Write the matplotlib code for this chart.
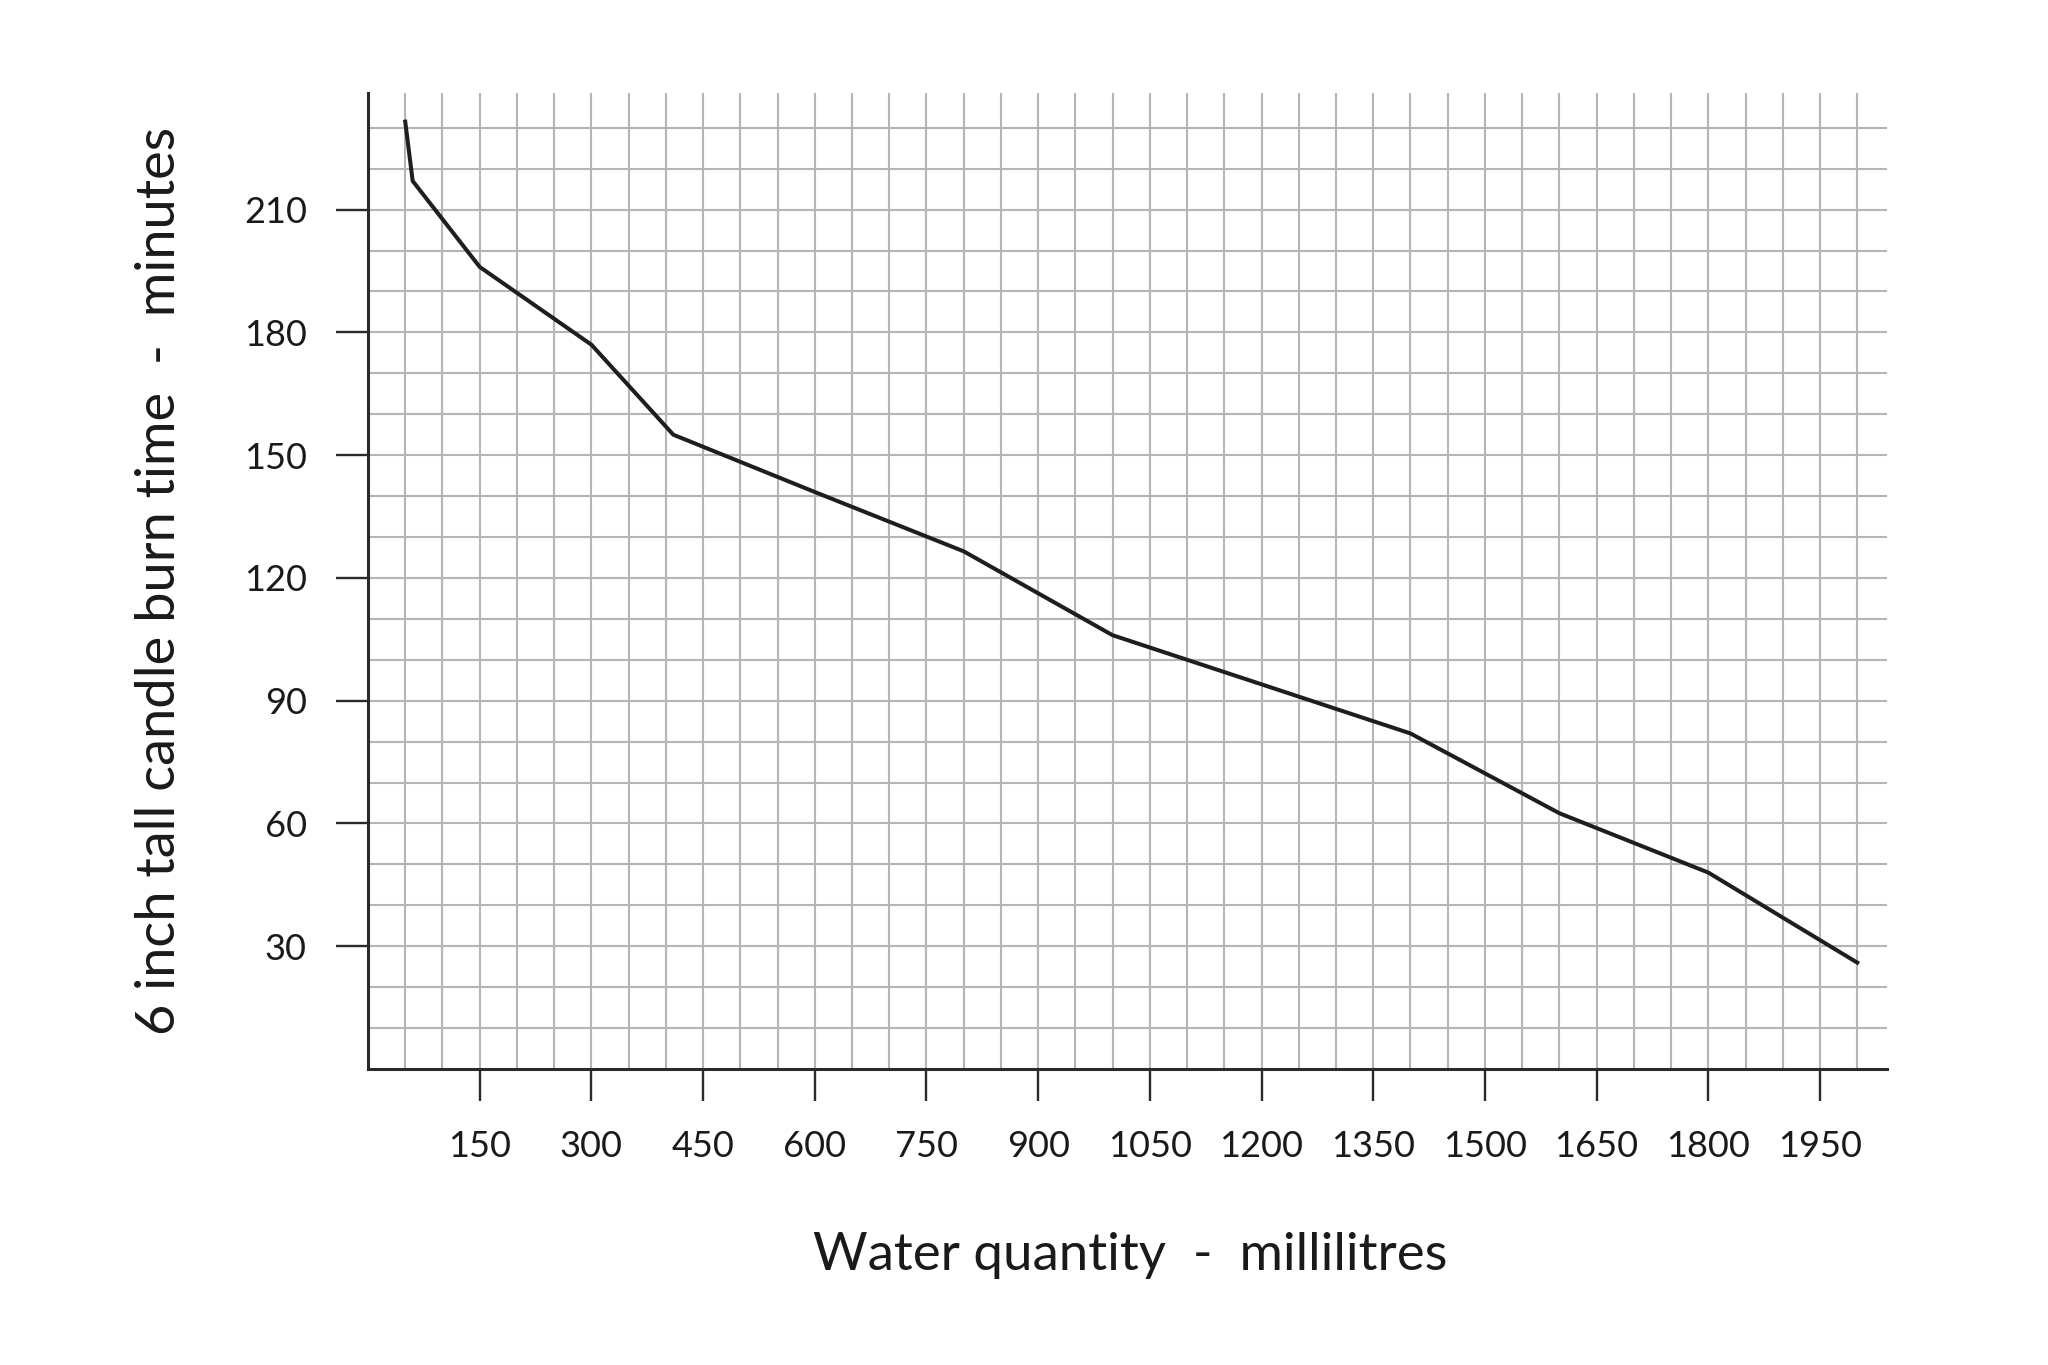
import matplotlib
matplotlib.use("Agg")
import matplotlib.pyplot as plt
from matplotlib.ticker import FixedLocator

# Data
water_ml = [50, 60, 150, 300, 410, 600, 800, 1000, 1400, 1600, 1800, 2000]
burn_min = [231.5, 217, 196, 177, 155, 141, 126.5, 106, 82, 62.5, 48, 26]
x_ticks = [150, 300, 450, 600, 750, 900, 1050, 1200, 1350, 1500, 1650, 1800, 1950]
y_ticks = [30, 60, 90, 120, 150, 180, 210]

plt.rcParams['font.family'] = ['Lato', 'DejaVu Sans']
plt.rcParams['font.weight'] = 'normal'

fig = plt.figure(figsize=(20.48, 13.65), dpi=100)
ax = fig.add_axes([368/2048, 296/1365, (1887-368)/2048, (1069-93)/1365])

ax.set_xlim(0, 2040)
ax.set_ylim(0, 238.5)

# grid
for gx in range(50, 2001, 50):
    ax.axvline(gx, color='#b5b5b5', lw=1.5, zorder=1)
for gy in range(10, 231, 10):
    ax.axhline(gy, color='#b5b5b5', lw=1.5, zorder=1)

ax.plot(water_ml, burn_min, color='#1e1e1e', lw=2.9, zorder=3,
        solid_joinstyle='miter')

for s in ['top', 'right']:
    ax.spines[s].set_visible(False)
for s in ['left', 'bottom']:
    ax.spines[s].set_color('#2a2a2a')
    ax.spines[s].set_linewidth(2.2)
    ax.spines[s].set_zorder(4)

ax.xaxis.set_major_locator(FixedLocator(x_ticks))
ax.yaxis.set_major_locator(FixedLocator(y_ticks))
ax.set_xticklabels([str(v) for v in x_ticks])
ax.set_yticklabels([str(v) for v in y_ticks])
ax.tick_params(axis='both', which='major', length=23, width=1.7,
               color='#2a2a2a', labelsize=26, labelcolor='#1a1a1a', pad=21)

fig.text(1130/2048, 95/1365, 'Water quantity  -  millilitres',
         ha='center', va='baseline', fontsize=38, color='#1a1a1a')
fig.text(160/2048, 1 - 581/1365, '6 inch tall candle burn time  -  minutes',
         ha='center', va='center', rotation=90, fontsize=39, color='#1a1a1a')

fig.savefig('out.png', dpi=100, facecolor='white')
